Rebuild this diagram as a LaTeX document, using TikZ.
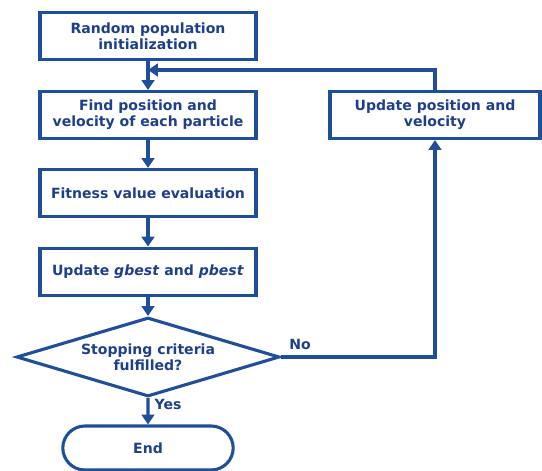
\documentclass[tikz,border=0pt]{standalone}
\usepackage{fontspec}
\setmainfont{DejaVu Sans}
\usepackage{tikz}
\usetikzlibrary{shapes.geometric, shapes.misc, arrows.meta, positioning}
\definecolor{flowblue}{HTML}{1F4E9A}
\definecolor{flowtext}{HTML}{1E3F8C}
\tikzset{
    stepbox/.style={draw=flowblue, line width=2.2pt, fill=white,
        text=flowtext, font=\bfseries\fontsize{10}{11.5}\selectfont,
        align=center, minimum width=5.4cm, minimum height=1.175cm, inner sep=2pt},
    flow/.style={draw=flowblue, line width=2.2pt,
        -{Triangle[width=9pt,length=7pt]}},
    flowlabel/.style={text=flowtext, font=\bfseries\fontsize{10}{11.5}\selectfont}
}
\begin{document}
\begin{tikzpicture}
    \useasboundingbox (0,0) rectangle (13.55,-11.75);
    \node[stepbox] (init) at (3.7,-0.9)
    {Random population\\initialization};
    \node[stepbox] (find) at (3.7,-2.875)
    {Find position and\\velocity of each particle};
    \node[stepbox] (fit) at (3.7,-4.825)
    {Fitness value evaluation};
    \node[stepbox] (best) at (3.7,-6.79)
    {Update \textit{gbest} and \textit{pbest}};
    \node[stepbox, diamond, aspect=3.33, minimum width=6.575cm,
        minimum height=1.975cm, inner sep=0pt] (stop) at (3.7,-8.925)
    {Stopping criteria\\fulfilled?};
    \node[stepbox, rounded rectangle, minimum width=4.4cm,
        minimum height=1.1cm] (end) at (3.7,-11.2) {End};
    \node[stepbox, minimum width=5.25cm] (upd) at (10.875,-2.875)
    {Update position and\\velocity};
    \coordinate (join) at (3.7,-1.75);
    \draw[flow] (init) -- (find);
    \draw[flow] (find) -- (fit);
    \draw[flow] (fit) -- (best);
    \draw[flow] (best) -- (stop);
    \draw[flow] (stop) -- (end);
    \draw[flow] (stop.east) -| (upd.south);
    \draw[flow] (upd.north) |- (join);
    \node[flowlabel] (no) at (7.5,-8.6) {No};
    \node[flowlabel] (yes) at (4.2,-10.1) {Yes};
\end{tikzpicture}
\end{document}
